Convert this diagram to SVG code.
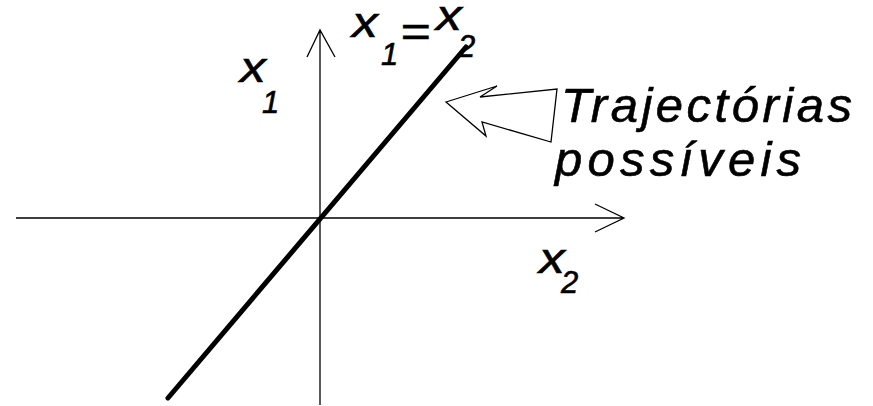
<svg xmlns="http://www.w3.org/2000/svg" width="873" height="406" viewBox="0 0 873 406">
<style>
.axis{fill:none;stroke:#000;stroke-width:1.3}
.t{font-family:"Liberation Sans",Arial,sans-serif;font-style:italic;fill:#000;stroke:#000;stroke-width:0.6}
.big{font-size:43px}
.sub{font-size:31px}
.lab{font-size:49px}
</style>
<rect width="873" height="406" fill="#fff"/>
<g id="connectors">
<path class="axis" d="M320 405 V30 M307 57 L320 30 L335 57"/>
<path class="axis" d="M16 218 H624 M595 204 L624 218 L595 232"/>
<path d="M168 398 L466 47" fill="none" stroke="#000" stroke-width="5" stroke-linecap="round"/>
<polygon class="axis" stroke-width="1" fill="#fff" points="446,102 497,86 480,97 557,89 551,142 482,122 486,136"/>
</g>
<g id="label-x1">
<text class="t big" transform="translate(240,82) scale(1.2,1)">x</text>
<text class="t sub" x="262" y="113">1</text>
</g>
<g id="label-x2">
<text class="t big" transform="translate(539,273) scale(1.2,1)">x</text>
<text class="t sub" x="561" y="293">2</text>
</g>
<g id="label-eq">
<text class="t big" transform="translate(352,37) scale(1.2,1)">x</text>
<text class="t sub" x="381" y="65">1</text>
<text class="t big" transform="translate(400,46) scale(1.2,1)">=</text>
<text class="t big" transform="translate(436,30) scale(1.2,1)">x</text>
<text class="t sub" x="458" y="57">2</text>
</g>
<g id="label-traj">
<text class="t lab" x="561" y="122" textLength="291" lengthAdjust="spacing">Trajectórias</text>
<text class="t lab" x="555" y="176" textLength="246" lengthAdjust="spacing">possíveis</text>
</g>
</svg>
